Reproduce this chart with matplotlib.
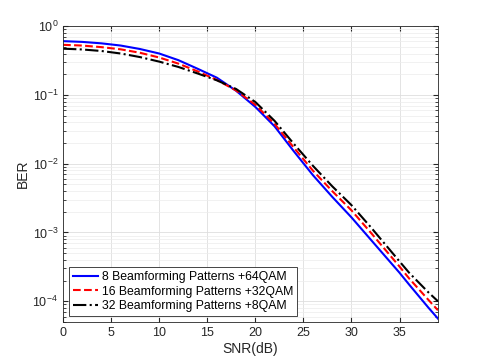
import matplotlib

matplotlib.use("Agg")
import matplotlib.pyplot as plt
from matplotlib.ticker import LogLocator, NullFormatter, MultipleLocator

plt.rcParams["font.family"] = ["Liberation Sans", "DejaVu Sans"]

# BER curves (SNR in dB)
snr = [0, 2, 4, 6, 8, 10, 12, 14, 16, 18, 20, 22, 24, 26, 28, 30, 32, 35, 36, 38, 39]
ber_8bp_64qam = [0.605, 0.59, 0.562, 0.522, 0.465, 0.40, 0.32, 0.24, 0.178, 0.115,
                 0.067, 0.035, 0.0152, 6.8e-3, 3.3e-3, 1.66e-3, 7.9e-4, 2.6e-4,
                 1.75e-4, 8.1e-5, 5.6e-5]
ber_16bp_32qam = [0.535, 0.522, 0.495, 0.46, 0.41, 0.35, 0.285, 0.22, 0.165, 0.116,
                  0.072, 0.038, 0.0172, 7.9e-3, 4.0e-3, 2.1e-3, 1.0e-3, 3.2e-4,
                  2.15e-4, 1.05e-4, 7.4e-5]
ber_32bp_8qam = [0.47, 0.458, 0.435, 0.40, 0.355, 0.305, 0.255, 0.205, 0.163, 0.122,
                 0.079, 0.042, 0.0195, 9.3e-3, 4.7e-3, 2.5e-3, 1.2e-3, 3.8e-4,
                 2.6e-4, 1.35e-4, 1.0e-4]
labels = ["8 Beamforming Patterns +64QAM",
          "16 Beamforming Patterns +32QAM",
          "32 Beamforming Patterns +8QAM"]

fig = plt.figure(figsize=(4.85, 3.63), dpi=100)
ax = fig.add_axes([0.13, 0.113, 0.773, 0.815])

ax.semilogy(snr, ber_8bp_64qam, "-", color="#0000ff", lw=1.5, label=labels[0])
ax.semilogy(snr, ber_16bp_32qam, "--", color="#ff0000", lw=1.5, label=labels[1])
ax.semilogy(snr, ber_32bp_8qam, "-.", color="black", lw=1.5, label=labels[2])

ax.set_xlim(0, 39)
ax.set_ylim(5e-5, 1)
ax.xaxis.set_major_locator(MultipleLocator(5))
ax.yaxis.set_major_locator(LogLocator(base=10, numticks=10))
ax.yaxis.set_minor_locator(LogLocator(base=10, subs=range(2, 10), numticks=20))
ax.yaxis.set_minor_formatter(NullFormatter())

ax.grid(True, which="major", color="#dedede", lw=0.6)
ax.grid(True, which="minor", axis="y", color="#ececec", lw=0.5)
ax.set_axisbelow(True)

ax.tick_params(which="both", direction="in", top=True, right=True,
               colors="#262626", labelsize=9)
ax.tick_params(which="major", length=3.5)
ax.tick_params(which="minor", length=2)
for s in ax.spines.values():
    s.set_color("#262626")
    s.set_linewidth(0.6)

ax.set_xlabel("SNR(dB)", fontsize=10, color="#262626", labelpad=2)
ax.set_ylabel("BER", fontsize=10, color="#262626", labelpad=2)

leg = ax.legend(loc="lower left", fontsize=8.8, fancybox=False, framealpha=1,
                edgecolor="#262626", handlelength=2.1, handletextpad=0.25,
                borderpad=0.35, labelspacing=0.2, borderaxespad=0.45)
leg.get_frame().set_linewidth(0.6)

fig.savefig("out.png", dpi=100)
